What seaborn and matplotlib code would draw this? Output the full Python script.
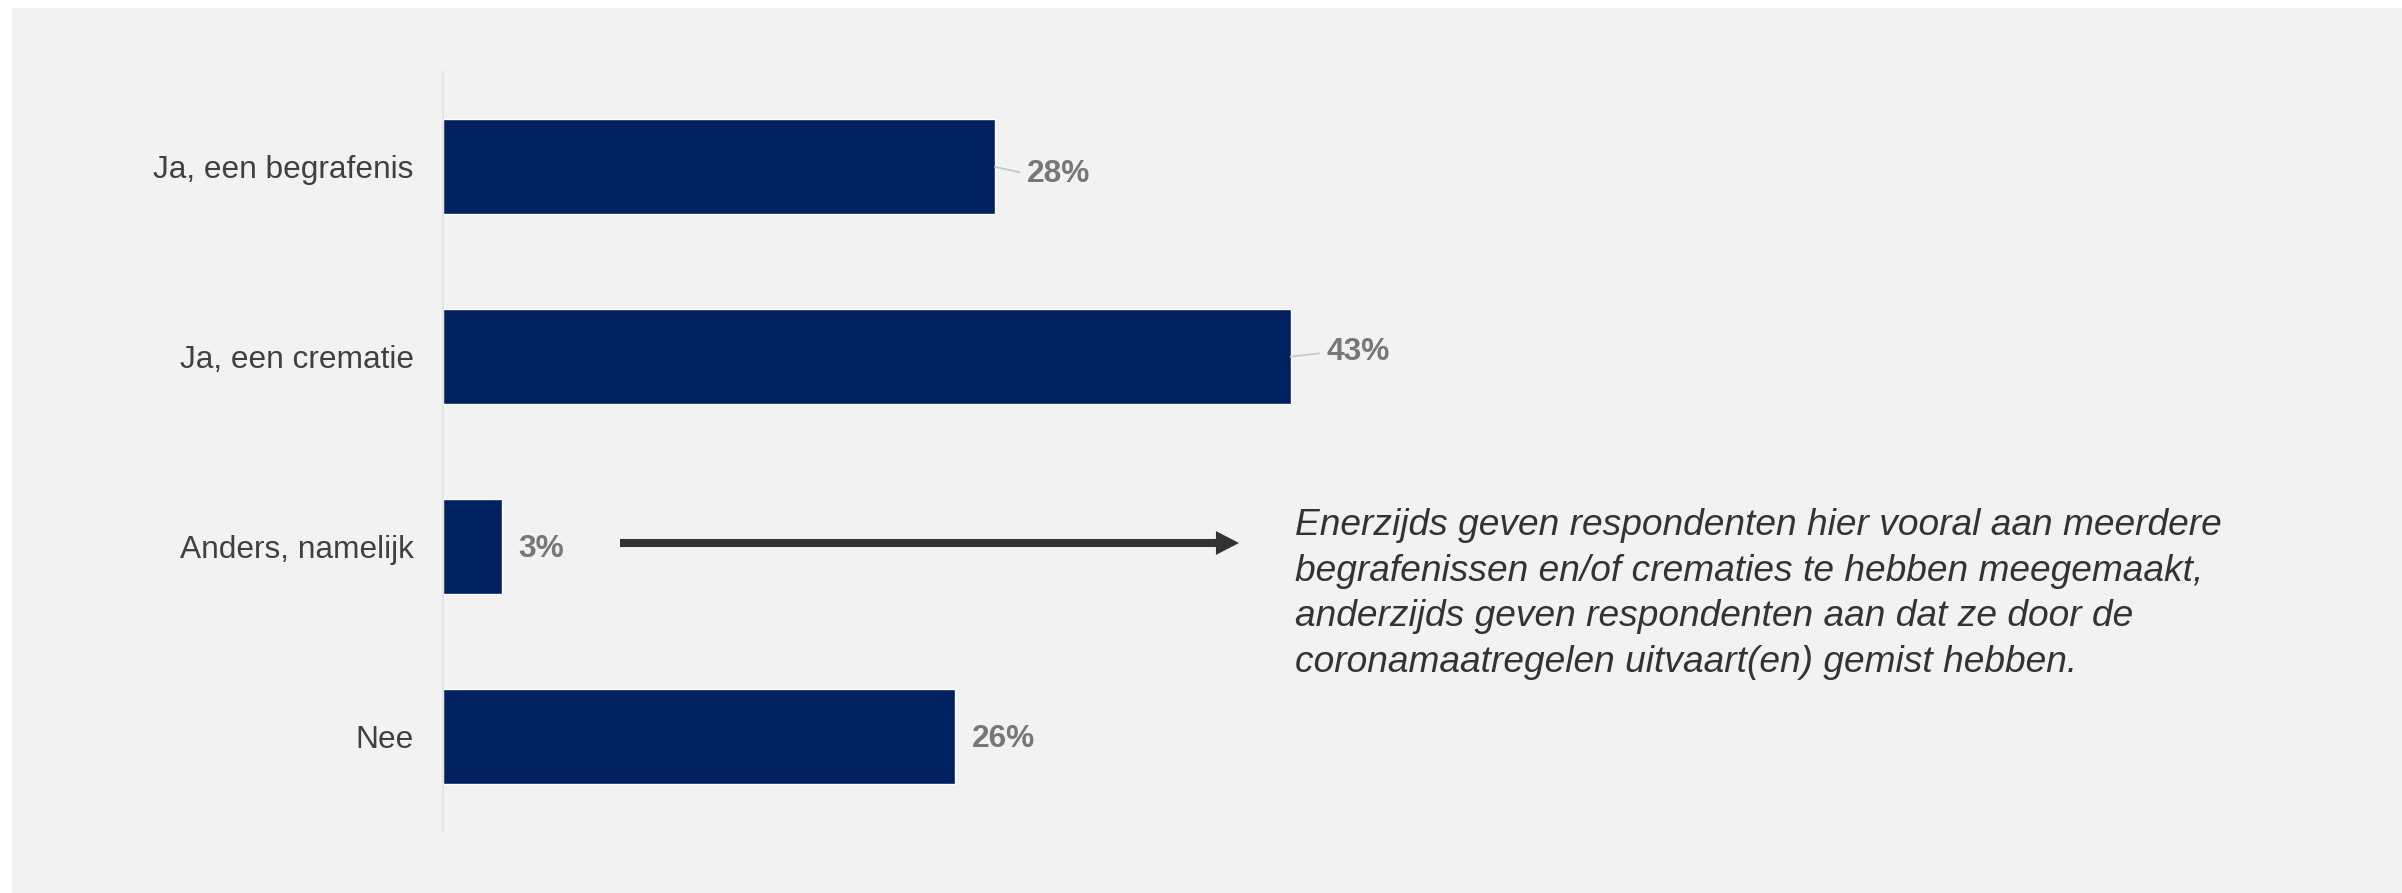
import matplotlib
matplotlib.use('Agg')
import matplotlib.pyplot as plt
import seaborn as sns
from matplotlib.patches import Rectangle

# ==========================================
# DATA
# ==========================================
categories = ['Ja, een begrafenis', 'Ja, een crematie', 'Anders, namelijk', 'Nee']
values = [28, 43, 3, 26]
value_labels = ['28%', '43%', '3%', '26%']
note_text = ('Enerzijds geven respondenten hier vooral aan meerdere\n'
             'begrafenissen en/of crematies te hebben meegemaakt,\n'
             'anderzijds geven respondenten aan dat ze door de\n'
             'coronamaatregelen uitvaart(en) gemist hebben.')

# label offsets in points (dx, dy) and whether a leader line is drawn
label_offsets = [(23, -5), (26, 3), (11.5, -2), (11.5, -2)]
leader_lines = [True, True, False, False]

# ==========================================
# STYLE
# ==========================================
sns.set_style('white')
plt.rcParams['font.family'] = ['Liberation Sans', 'DejaVu Sans']

W, H = 2402, 893
fig = plt.figure(figsize=(W / 100, H / 100), dpi=100)
fig.patch.set_facecolor('white')
fig.patches.append(Rectangle((12 / W, 0), 1, (H - 8) / H, transform=fig.transFigure,
                             facecolor='#f2f2f2', edgecolor='none', zorder=-10))

ax = fig.add_axes([443 / W, (H - 831) / H, 1774 / W, 759 / H])
ax.set_facecolor('none')

sns.barplot(x=values, y=categories, orient='h', color='#002060', width=0.5,
            saturation=1, ax=ax)

ax.set_xlim(0, 90)
ax.set_ylim(3.5, -0.5)
ax.set_xticks([])
ax.set_xlabel('')
ax.set_ylabel('')
for s in ['top', 'right', 'bottom']:
    ax.spines[s].set_visible(False)
ax.spines['left'].set_color('#e4e4e4')
ax.spines['left'].set_linewidth(1.5)
ax.tick_params(axis='y', length=0, pad=21, labelsize=22.8, labelcolor='#404040')

# value labels
for i, (v, lab) in enumerate(zip(values, value_labels)):
    dx, dy = label_offsets[i]
    props = None
    if leader_lines[i]:
        props = dict(arrowstyle='-', color='#c8c8c8', lw=1.3,
                     shrinkA=3, shrinkB=0, relpos=(0, 0.5))
    ax.annotate(lab, xy=(v, i), xytext=(dx, dy), textcoords='offset points',
                ha='left', va='center', fontsize=22.8, fontweight='bold',
                color='#777777', arrowprops=props)

# arrow and note
y_arrow = 1 - 543 / H
ax.annotate('', xy=(1239 / W, y_arrow), xytext=(620 / W, y_arrow),
            xycoords='figure fraction', textcoords='figure fraction',
            arrowprops=dict(arrowstyle='simple,head_length=0.83,head_width=0.86,tail_width=0.29',
                            mutation_scale=20, color='#333333', lw=0,
                            shrinkA=0, shrinkB=0))

fig.text(1295 / W, 1 - 508 / H, note_text, ha='left', va='top',
         fontsize=26.7, fontstyle='italic', color='#333333', linespacing=1.39)

plt.savefig('out.png', dpi=100)
